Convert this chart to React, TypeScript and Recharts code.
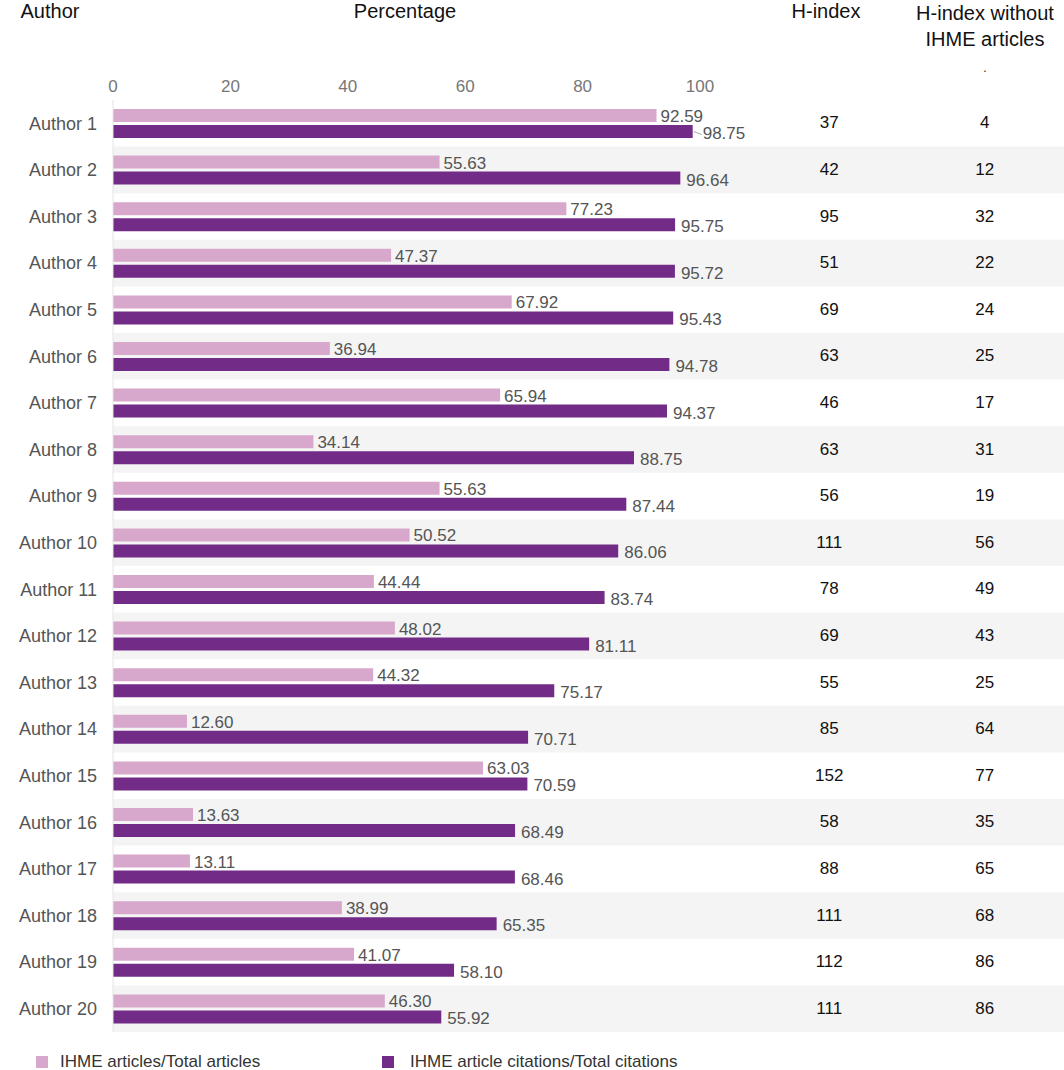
import React from "react";
import { ComposedChart, Bar, XAxis, YAxis, ReferenceArea, LabelList } from "recharts";

const authors = Array.from({ length: 20 }, (_, i) => `Author ${i + 1}`);
const articlesPct = [92.59, 55.63, 77.23, 47.37, 67.92, 36.94, 65.94, 34.14, 55.63, 50.52, 44.44, 48.02, 44.32, 12.6, 63.03, 13.63, 13.11, 38.99, 41.07, 46.3];
const citationsPct = [98.75, 96.64, 95.75, 95.72, 95.43, 94.78, 94.37, 88.75, 87.44, 86.06, 83.74, 81.11, 75.17, 70.71, 70.59, 68.49, 68.46, 65.35, 58.1, 55.92];
const hIndex = [37, 42, 95, 51, 69, 63, 46, 63, 56, 111, 78, 69, 55, 85, 152, 58, 88, 111, 112, 111];
const hIndexWithout = [4, 12, 32, 22, 24, 25, 17, 31, 19, 56, 49, 43, 25, 64, 77, 35, 65, 68, 86, 86];
const xTicks = [0, 20, 40, 60, 80, 100];
const X_MAX = 162;
const H_COL = 122;
const HW_COL = 148.5;

const data = authors.map((a, i) => ({
  author: a,
  articles: articlesPct[i],
  citations: citationsPct[i],
  h: hIndex[i],
  hw: hIndexWithout[i],
}));

const LIGHT = "#d8a7cc";
const DARK = "#722b87";
const FONT = "Liberation Sans, Arial, sans-serif";

const W = 1064, H = 1070, LEFT = 113, TOP = 100, BOTTOM = 38;
const plotW = W - LEFT;
const px = (v: number) => LEFT + (v / X_MAX) * plotW;

const LightLabel = (props: any) => {
  const { x, y, width, height, index } = props;
  const d = data[index];
  const cy = y + height + 2; // boundary between bars
  return (
    <g>
      <text x={x + width + 4} y={y + height / 2} dy={2} fontSize={17} fill="#555" fontFamily={FONT} dominantBaseline="middle">
        {d.articles.toFixed(2)}
      </text>
      <text x={px(H_COL)} y={cy} fontSize={17} fill="#111" fontFamily={FONT} textAnchor="middle" dominantBaseline="middle">
        {d.h}
      </text>
      <text x={px(HW_COL)} y={cy} fontSize={17} fill="#111" fontFamily={FONT} textAnchor="middle" dominantBaseline="middle">
        {d.hw}
      </text>
    </g>
  );
};

const DarkLabel = (props: any) => {
  const { x, y, width, height, index } = props;
  const d = data[index];
  const close = (d.citations - d.articles) * (plotW / X_MAX) < 40;
  const lx = x + width + (close ? 10 : 6);
  return (
    <g>
      {close && <line x1={x + width + 1} y1={y + height / 2} x2={lx - 1} y2={y + height / 2 + 3} stroke="#aaa" />}
      <text x={lx} y={y + height / 2} dy={3} fontSize={17} fill="#555" fontFamily={FONT} dominantBaseline="middle">
        {d.citations.toFixed(2)}
      </text>
    </g>
  );
};

export default function App() {
  return (
    <div style={{ position: "absolute", left: 0, top: 0, width: W, height: H, fontFamily: FONT, background: "#fff" }}>
      <div style={{ position: "absolute", left: 50, top: 0, transform: "translateX(-50%)", fontSize: 20, color: "#111" }}>Author</div>
      <div style={{ position: "absolute", left: 405, top: 0, transform: "translateX(-50%)", fontSize: 20, color: "#111" }}>Percentage</div>
      <div style={{ position: "absolute", left: 826, top: 0, transform: "translateX(-50%)", fontSize: 20, color: "#111" }}>H-index</div>
      <div style={{ position: "absolute", left: 985, top: 0, transform: "translateX(-50%)", fontSize: 20, color: "#111", textAlign: "center", lineHeight: "26px", whiteSpace: "nowrap" }}>
        H-index without<br />IHME articles<br /><span style={{ fontSize: 12 }}>.</span>
      </div>
      <ComposedChart
        width={W}
        height={H}
        data={data}
        layout="vertical"
        margin={{ top: TOP - 40, right: 0, bottom: BOTTOM, left: 0 }}
        barSize={13}
        barGap={3}
        style={{ position: "absolute", left: 0, top: 0 }}
      >
        {data.map((d, i) =>
          i % 2 === 1 ? (
            <ReferenceArea key={d.author} y1={d.author} y2={d.author} x1={0} x2={X_MAX} fill="#f4f4f4" fillOpacity={1} stroke="none" />
          ) : null
        )}
        <XAxis
          type="number"
          orientation="top"
          domain={[0, X_MAX]}
          ticks={xTicks}
          height={40}
          axisLine={false}
          tickLine={false}
          tick={{ fontSize: 17, fill: "#777", fontFamily: FONT }}
          allowDataOverflow
        />
        <YAxis
          type="category"
          dataKey="author"
          width={LEFT}
          axisLine={{ stroke: "#e4e4e4" }}
          tickLine={false}
          tick={{ fontSize: 18, fill: "#555", fontFamily: FONT }}
          tickMargin={10}
        />
        <Bar dataKey="articles" fill={LIGHT} isAnimationActive={false}>
          <LabelList content={<LightLabel />} />
        </Bar>
        <Bar dataKey="citations" fill={DARK} isAnimationActive={false}>
          <LabelList content={<DarkLabel />} />
        </Bar>
      </ComposedChart>
      <div style={{ position: "absolute", left: 36, top: 1052, display: "flex", alignItems: "center", fontSize: 17, color: "#333" }}>
        <span style={{ width: 12, height: 12, background: LIGHT, display: "inline-block", marginRight: 12 }} />
        IHME articles/Total articles
      </div>
      <div style={{ position: "absolute", left: 382, top: 1052, display: "flex", alignItems: "center", fontSize: 17, color: "#333" }}>
        <span style={{ width: 12, height: 12, background: DARK, display: "inline-block", marginRight: 16 }} />
        IHME article citations/Total citations
      </div>
    </div>
  );
}
